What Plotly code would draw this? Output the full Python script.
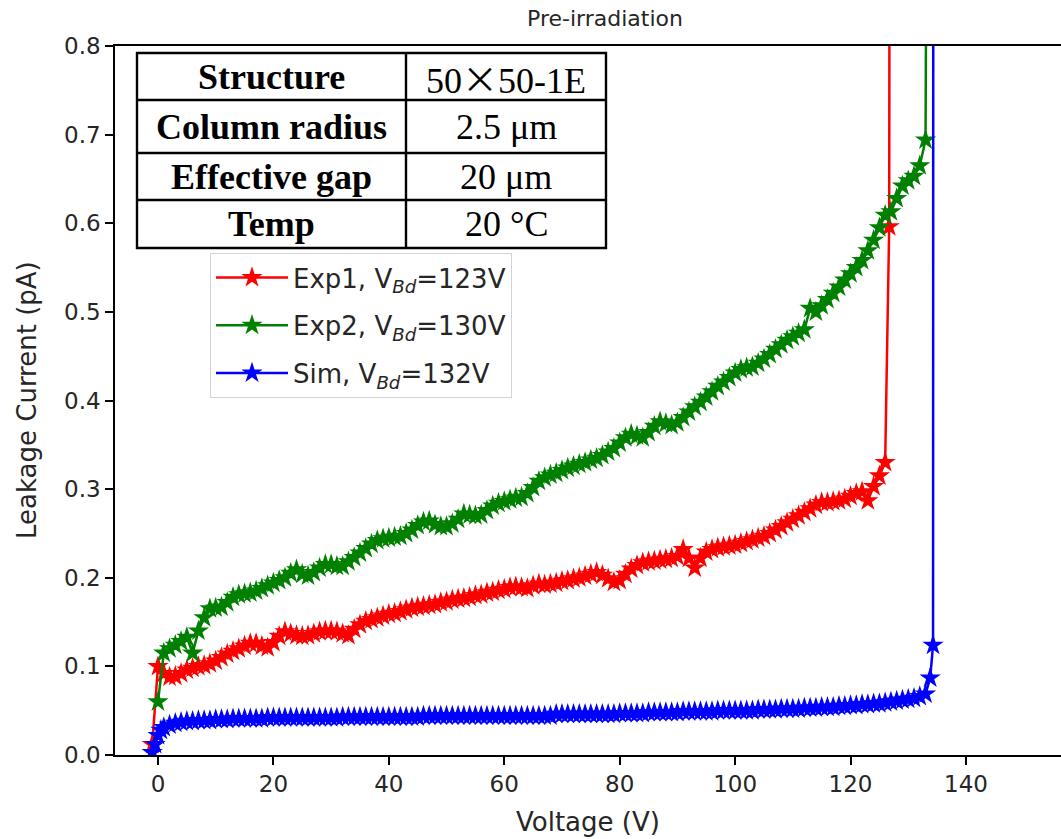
import plotly.graph_objects as go

# ---------------- data ----------------
exp1_v = [-1, 0, 1, 2, 3, 4, 5, 6, 7, 8, 9,
          10, 11, 12, 13, 14, 15, 16, 17, 18, 19,
          20, 21, 22, 23, 24, 25, 26, 27, 28, 29,
          30, 31, 32, 33, 34, 35, 36, 37, 38, 39,
          40, 41, 42, 43, 44, 45, 46, 47, 48, 49,
          50, 51, 52, 53, 54, 55, 56, 57, 58, 59,
          60, 61, 62, 63, 64, 65, 66, 67, 68, 69,
          70, 71, 72, 73, 74, 75, 76, 77, 78, 79,
          80, 81, 82, 83, 84, 85, 86, 87, 88, 89,
          90, 91, 92, 93, 94, 95, 96, 97, 98, 99,
          100, 101, 102, 103, 104, 105, 106, 107, 108, 109,
          110, 111, 112, 113, 114, 115, 116, 117, 118, 119,
          120, 121, 122, 123, 124, 125, 126, 126.7, 126.8]
exp1_i = [0.012, 0.100, 0.092, 0.088, 0.089, 0.092, 0.096, 0.098, 0.100, 0.101, 0.103,
          0.106, 0.110, 0.114, 0.117, 0.120, 0.123, 0.126, 0.126, 0.123, 0.121,
          0.127, 0.134, 0.139, 0.137, 0.135, 0.134, 0.135, 0.137, 0.139, 0.140,
          0.140, 0.139, 0.137, 0.135, 0.142, 0.147, 0.151, 0.153, 0.155, 0.157,
          0.159, 0.160, 0.162, 0.164, 0.166, 0.167, 0.168, 0.169, 0.170, 0.172,
          0.173, 0.175, 0.176, 0.177, 0.178, 0.180, 0.181, 0.183, 0.184, 0.186,
          0.187, 0.189, 0.190, 0.189, 0.188, 0.191, 0.193, 0.192, 0.193, 0.194,
          0.196, 0.197, 0.199, 0.200, 0.202, 0.204, 0.206, 0.203, 0.199, 0.195,
          0.197, 0.204, 0.210, 0.214, 0.217, 0.218, 0.219, 0.220, 0.221, 0.222,
          0.224, 0.232, 0.222, 0.211, 0.222, 0.229, 0.232, 0.234, 0.235, 0.236,
          0.237, 0.239, 0.241, 0.243, 0.245, 0.247, 0.250, 0.254, 0.258, 0.262,
          0.266, 0.270, 0.274, 0.278, 0.282, 0.285, 0.285, 0.286, 0.287, 0.289,
          0.292, 0.295, 0.297, 0.287, 0.303, 0.315, 0.330, 0.596, 1.200]

exp2_v = [0, 1, 2, 3, 4, 5, 6, 7, 8, 9,
          10, 11, 12, 13, 14, 15, 16, 17, 18, 19,
          20, 21, 22, 23, 24, 25, 26, 27, 28, 29,
          30, 31, 32, 33, 34, 35, 36, 37, 38, 39,
          40, 41, 42, 43, 44, 45, 46, 47, 48, 49,
          50, 51, 52, 53, 54, 55, 56, 57, 58, 59,
          60, 61, 62, 63, 64, 65, 66, 67, 68, 69,
          70, 71, 72, 73, 74, 75, 76, 77, 78, 79,
          80, 81, 82, 83, 84, 85, 86, 87, 88, 89,
          90, 91, 92, 93, 94, 95, 96, 97, 98, 99,
          100, 101, 102, 103, 104, 105, 106, 107, 108, 109,
          110, 111, 112, 113, 114, 115, 116, 117, 118, 119,
          120, 121, 122, 123, 124, 125, 126, 127, 128, 129,
          130, 131, 132, 133, 133.3]
exp2_i = [0.060, 0.115, 0.120, 0.124, 0.128, 0.133, 0.115, 0.140, 0.155, 0.165,
          0.166, 0.167, 0.172, 0.178, 0.181, 0.182, 0.183, 0.185, 0.188, 0.191,
          0.194, 0.197, 0.200, 0.205, 0.209, 0.204, 0.202, 0.206, 0.211, 0.215,
          0.215, 0.213, 0.213, 0.218, 0.223, 0.228, 0.233, 0.238, 0.242, 0.244,
          0.245, 0.246, 0.247, 0.250, 0.254, 0.259, 0.263, 0.264, 0.260, 0.258,
          0.258, 0.261, 0.266, 0.272, 0.271, 0.270, 0.271, 0.276, 0.281, 0.284,
          0.286, 0.288, 0.290, 0.291, 0.295, 0.302, 0.309, 0.313, 0.316, 0.318,
          0.321, 0.324, 0.326, 0.328, 0.330, 0.333, 0.335, 0.338, 0.342, 0.346,
          0.352, 0.358, 0.362, 0.360, 0.358, 0.364, 0.371, 0.376, 0.374, 0.372,
          0.375, 0.381, 0.387, 0.393, 0.398, 0.404, 0.410, 0.416, 0.421, 0.426,
          0.431, 0.435, 0.437, 0.438, 0.442, 0.447, 0.452, 0.458, 0.463, 0.468,
          0.472, 0.476, 0.480, 0.504, 0.500, 0.507, 0.514, 0.521, 0.528, 0.536,
          0.543, 0.550, 0.558, 0.569, 0.581, 0.595, 0.609, 0.613, 0.628, 0.642,
          0.648, 0.653, 0.665, 0.694, 1.200]

sim_v = [-1, -0.5, 0, 0.5, 1, 2, 3, 4, 5, 6, 7, 8, 9,
         10, 11, 12, 13, 14, 15, 16, 17, 18, 19,
         20, 21, 22, 23, 24, 25, 26, 27, 28, 29,
         30, 31, 32, 33, 34, 35, 36, 37, 38, 39,
         40, 41, 42, 43, 44, 45, 46, 47, 48, 49,
         50, 51, 52, 53, 54, 55, 56, 57, 58, 59,
         60, 61, 62, 63, 64, 65, 66, 67, 68, 69,
         70, 71, 72, 73, 74, 75, 76, 77, 78, 79,
         80, 81, 82, 83, 84, 85, 86, 87, 88, 89,
         90, 91, 92, 93, 94, 95, 96, 97, 98, 99,
         100, 101, 102, 103, 104, 105, 106, 107, 108, 109,
         110, 111, 112, 113, 114, 115, 116, 117, 118, 119,
         120, 121, 122, 123, 124, 125, 126, 127, 128, 129,
         130, 131, 132, 133, 133.8, 134.3, 134.35]
sim_i = [0.003, 0.012, 0.022, 0.028, 0.031, 0.034, 0.036, 0.037, 0.038, 0.038, 0.039, 0.039, 0.039,
         0.040, 0.040, 0.040, 0.041, 0.041, 0.041, 0.041, 0.041, 0.041, 0.042,
         0.042, 0.042, 0.042, 0.042, 0.042, 0.042, 0.042, 0.042, 0.042, 0.042,
         0.042, 0.042, 0.043, 0.043, 0.043, 0.043, 0.043, 0.043, 0.043, 0.043,
         0.043, 0.043, 0.043, 0.043, 0.043, 0.043, 0.044, 0.044, 0.044, 0.044,
         0.044, 0.044, 0.044, 0.044, 0.044, 0.044, 0.044, 0.044, 0.044, 0.044,
         0.044, 0.044, 0.044, 0.044, 0.044, 0.044, 0.044, 0.044, 0.044, 0.046,
         0.046, 0.046, 0.046, 0.046, 0.046, 0.046, 0.046, 0.046, 0.046, 0.046,
         0.047, 0.047, 0.047, 0.047, 0.047, 0.048, 0.048, 0.048, 0.048, 0.048,
         0.048, 0.049, 0.049, 0.049, 0.049, 0.049, 0.049, 0.050, 0.050, 0.050,
         0.050, 0.050, 0.050, 0.050, 0.051, 0.051, 0.051, 0.051, 0.052, 0.052,
         0.052, 0.052, 0.053, 0.053, 0.053, 0.054, 0.054, 0.054, 0.055, 0.055,
         0.056, 0.056, 0.057, 0.057, 0.058, 0.058, 0.059, 0.060, 0.061, 0.062,
         0.063, 0.064, 0.066, 0.069, 0.087, 0.124, 1.200]

series_names = ["Exp1, V<sub><i>Bd</i></sub>=123V",
                "Exp2, V<sub><i>Bd</i></sub>=130V",
                "Sim, V<sub><i>Bd</i></sub>=132V"]
series_colors = ["#ff0000", "#008000", "#0000ff"]

x_ticks = [0, 20, 40, 60, 80, 100, 120, 140]
y_ticks = [0.0, 0.1, 0.2, 0.3, 0.4, 0.5, 0.6, 0.7, 0.8]

table_left = ["Structure", "Column radius", "Effective gap", "Temp"]
table_right = ["50<span style=\"font-family:'Noto Sans CJK SC'\">×</span>50-1E",
               "2.5 μm", "20 μm", "20 °C"]

# ---------------- layout geometry ----------------
W, H = 1061, 839
L, R, T, B = 115, 0, 46, 84
PW, PH = W - L - R, H - T - B


def xp(px):
    return (px - L) / PW


def yp(py):
    return (H - B - py) / PH


fig = go.Figure()
for name, v, i, c in zip(series_names, [exp1_v, exp2_v, sim_v],
                         [exp1_i, exp2_i, sim_i], series_colors):
    fig.add_trace(go.Scatter(
        x=v, y=i, mode="lines+markers", name=name, legendgroup=name,
        line=dict(color=c, width=2.5),
        marker=dict(symbol="star", size=16, color=c, line=dict(width=0)),
    ))

tick_font = dict(family="DejaVu Sans", size=23, color="#262626")

fig.update_layout(
    width=W, height=H,
    margin=dict(l=L, r=R, t=T, b=B),
    paper_bgcolor="white", plot_bgcolor="white",
    showlegend=True,
    legend=dict(
        x=xp(210), y=yp(253), xanchor="left", yanchor="top",
        bgcolor="rgba(255,255,255,0.85)", bordercolor="#d3d3d3", borderwidth=1,
        font=dict(family="DejaVu Sans", size=26, color="#262626"),
        tracegroupgap=11, itemwidth=72,
    ),
    xaxis=dict(
        range=[-7.45, 156.47], tickvals=x_ticks, ticks="outside", ticklen=8,
        tickwidth=1.5, tickcolor="black", showline=True, linecolor="black",
        linewidth=1.5, mirror=True, showgrid=False, zeroline=False,
        tickfont=tick_font,
    ),
    yaxis=dict(
        range=[0, 0.8], tickvals=y_ticks, tickformat=".1f", ticks="outside",
        ticklen=8, tickwidth=1.5, tickcolor="black", showline=True,
        linecolor="black", linewidth=1.5, mirror=False, showgrid=False,
        zeroline=False, tickfont=tick_font,
    ),
)

# axis titles and chart title
fig.add_annotation(text="Voltage (V)", xref="paper", yref="paper",
                   x=0.5, y=yp(822), xanchor="center", yanchor="middle",
                   showarrow=False, font=dict(family="DejaVu Sans", size=26, color="#262626"))
fig.add_annotation(text="Leakage Current (pA)", xref="paper", yref="paper",
                   x=xp(27), y=yp(400), xanchor="center", yanchor="middle",
                   textangle=-90, showarrow=False,
                   font=dict(family="DejaVu Sans", size=26, color="#262626"))
fig.add_annotation(text="Pre-irradiation", xref="paper", yref="paper",
                   x=xp(605), y=yp(18), xanchor="center", yanchor="middle",
                   showarrow=False, font=dict(family="DejaVu Sans", size=22, color="#262626"))

# info table
tx0, tx1, tx2 = 137, 406, 606
row_lines = [53, 100, 153, 200, 248]
fig.add_shape(type="rect", xref="paper", yref="paper",
              x0=xp(tx0), x1=xp(tx2), y0=yp(row_lines[0]), y1=yp(row_lines[-1]),
              fillcolor="white", line=dict(color="black", width=2.4), layer="above")
for ry in row_lines[1:-1]:
    fig.add_shape(type="line", xref="paper", yref="paper",
                  x0=xp(tx0), x1=xp(tx2), y0=yp(ry), y1=yp(ry),
                  line=dict(color="black", width=2.4), layer="above")
fig.add_shape(type="line", xref="paper", yref="paper",
              x0=xp(tx1), x1=xp(tx1), y0=yp(row_lines[0]), y1=yp(row_lines[-1]),
              line=dict(color="black", width=2.4), layer="above")
for k in range(4):
    cy = (row_lines[k] + row_lines[k + 1]) / 2
    fig.add_annotation(text="<b>" + table_left[k] + "</b>", xref="paper", yref="paper",
                       x=xp((tx0 + tx1) / 2), y=yp(cy), xanchor="center", yanchor="middle",
                       showarrow=False,
                       font=dict(family="Liberation Serif", size=36, color="black"))
    fig.add_annotation(text=table_right[k], xref="paper", yref="paper",
                       x=xp((tx1 + tx2) / 2), y=yp(cy), xanchor="center", yanchor="middle",
                       showarrow=False,
                       font=dict(family="Liberation Serif", size=36, color="black"))

fig.write_html("out.html", config={"displayModeBar": False})
